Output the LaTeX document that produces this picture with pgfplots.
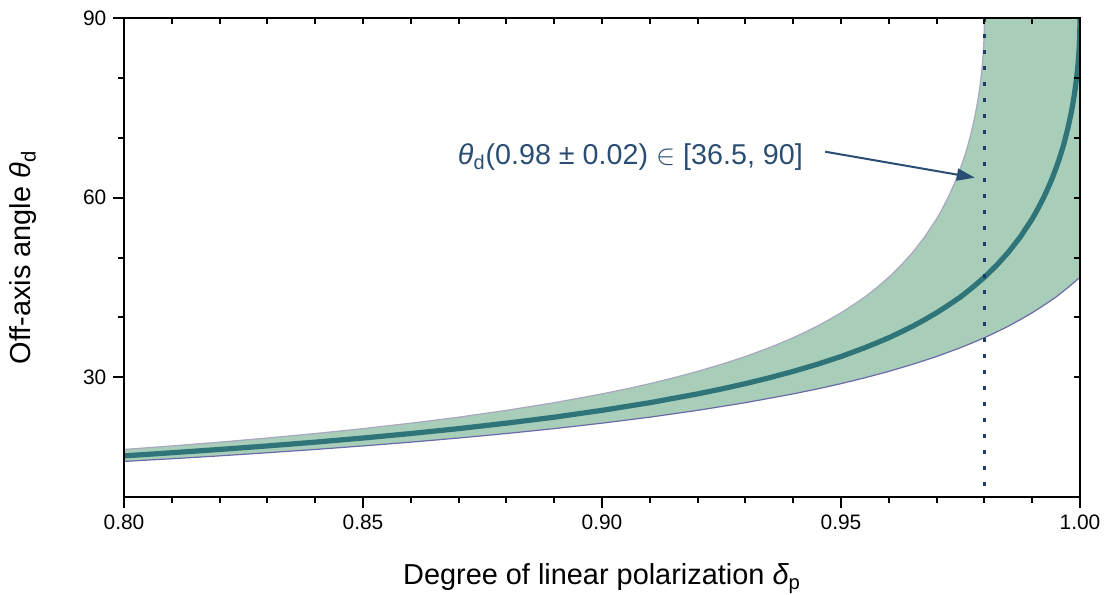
\documentclass[border=0pt]{standalone}
\usepackage{fontspec}
\setmainfont{Liberation Sans}
\usepackage{pgfplots}
\usepackage{pgfplotstable}
\pgfplotsset{compat=1.18}
\usepgfplotslibrary{fillbetween}
\usetikzlibrary{arrows.meta}

\definecolor{fillc}{HTML}{A8CDB8}
\definecolor{upperc}{HTML}{A8A8C0}
\definecolor{lowerc}{HTML}{6A6AA8}
\definecolor{centerc}{HTML}{2E7479}
\definecolor{dotc}{HTML}{1F3D66}
\definecolor{annotc}{HTML}{2A4D73}

\pgfplotstableread{
x y
0.80 16.87
0.81 17.39
0.82 17.94
0.83 18.53
0.84 19.16
0.85 19.85
0.86 20.60
0.87 21.42
0.88 22.33
0.89 23.33
0.90 24.47
0.91 25.75
0.92 27.22
0.925 28.04
0.93 28.93
0.935 29.91
0.94 30.98
0.945 32.16
0.95 33.46
0.955 34.94
0.9575 35.75
0.96 36.60
0.9625 37.54
0.965 38.52
0.9675 39.61
0.97 40.77
0.9725 42.05
0.975 43.41
0.9775 44.99
0.98 46.70
0.9825 48.65
0.985 50.86
0.9875 53.43
0.99 56.45
0.9912 58.15
0.9925 60.18
0.9937 62.30
0.9945 63.88
0.995 64.95
0.9955 66.09
0.996 67.32
0.9965 68.61
0.997 70.12
0.9975 71.74
0.998 73.55
0.9982 74.36
0.9985 75.66
0.9988 77.13
0.999 78.22
0.9991 78.81
0.9993 80.10
0.9995 81.61
0.9996 82.49
0.9997 83.48
0.9998 84.67
0.9999 86.23
0.99995 87.33
1.00 90.00
}\centerdata

\pgfplotstableread{
x y
0.80 17.94
0.81 18.53
0.82 19.16
0.83 19.85
0.84 20.60
0.85 21.42
0.86 22.33
0.87 23.33
0.88 24.47
0.89 25.75
0.90 27.22
0.905 28.04
0.91 28.93
0.915 29.91
0.92 30.98
0.925 32.16
0.93 33.46
0.935 34.94
0.9375 35.75
0.94 36.60
0.9425 37.54
0.945 38.52
0.9475 39.61
0.95 40.77
0.9525 42.05
0.955 43.41
0.9575 44.99
0.96 46.70
0.9625 48.65
0.965 50.86
0.9675 53.43
0.97 56.45
0.9712 58.15
0.9725 60.18
0.9737 62.30
0.9745 63.88
0.975 64.95
0.9755 66.09
0.976 67.32
0.9765 68.61
0.977 70.12
0.9775 71.74
0.978 73.55
0.9782 74.36
0.9785 75.66
0.9788 77.13
0.979 78.22
0.9791 78.81
0.9793 80.10
0.9795 81.61
0.9796 82.49
0.9797 83.48
0.9798 84.67
0.9799 86.23
0.97995 87.33
0.98 90.00
1.00 90.00
}\upperdata

\pgfplotstableread{
x y
0.80 15.94
0.81 16.39
0.82 16.87
0.83 17.39
0.84 17.94
0.85 18.53
0.86 19.16
0.87 19.85
0.88 20.60
0.89 21.42
0.90 22.33
0.91 23.33
0.92 24.47
0.93 25.75
0.94 27.22
0.945 28.04
0.95 28.93
0.955 29.91
0.96 30.98
0.965 32.16
0.97 33.46
0.975 34.94
0.9775 35.75
0.98 36.60
0.9825 37.54
0.985 38.52
0.9875 39.61
0.99 40.77
0.9925 42.05
0.995 43.41
0.9975 44.99
1.00 46.70
}\lowerdata

\begin{document}
\begin{tikzpicture}
\begin{axis}[
  name=main,
  width=478bp, height=239.5bp, scale only axis,
  xmin=0.8, xmax=1, ymin=10, ymax=90,
  xtick={0.8,0.85,0.9,0.95,1}, xticklabels={0.80,0.85,0.90,0.95,1.00},
  minor x tick num=4,
  ytick={30,60,90}, yticklabels={30,60,90},
  minor y tick num=2,
  xtick pos=left, ytick pos=left, tick align=outside,
  major tick length=5.3bp, minor tick length=2.8bp,
  every tick/.style={black, line width=1bp},
  axis line style={line width=1bp},
  ticklabel style={font=\fontsize{10.5}{12}\selectfont},
  label style={font=\fontsize{14.5}{17}\selectfont},
  xlabel={Degree of linear polarization {\itshape δ}\textsubscript{p}},
  ylabel={Off-axis angle {\itshape θ}\textsubscript{d}},
  xlabel style={at={(axis description cs:0.5,-0.1837)}, anchor=base, inner sep=0pt},
  ylabel style={at={(axis description cs:-0.0975,0.5)}, anchor=base, inner sep=0pt},
]
\addplot[name path=U, draw=upperc, line width=0.6bp] table[x=x,y=y] {\upperdata};
\addplot[name path=L, draw=lowerc, line width=0.6bp] table[x=x,y=y] {\lowerdata};
\addplot[fill=fillc, draw=none] fill between[of=U and L];
\addplot[draw=centerc, line width=2.6bp, line join=round] table[x=x,y=y] {\centerdata};
\addplot[draw=dotc, line width=1.1bp, dash pattern=on 2bp off 6bp] coordinates {(0.98,90) (0.98,10)};
\draw[annotc, line width=1bp, -{Triangle[length=9bp,width=6bp]}] (axis cs:0.9467,67.67) -- (axis cs:0.9780,63.33);
\node[anchor=base east, text=annotc, font=\fontsize{14.4}{16}\selectfont, inner sep=0pt] at (axis cs:0.9421,65.5)
  {{\itshape θ}\textsubscript{d}(0.98 ± 0.02) $\in$ [36.5, 90]};
\end{axis}
\begin{axis}[
  width=478bp, height=239.5bp, scale only axis,
  xmin=0.8, xmax=1, ymin=10, ymax=90,
  xtick={0.8,0.85,0.9,0.95,1}, minor x tick num=4,
  ytick={30,60,90}, minor y tick num=2,
  xtick pos=right, ytick pos=right, tick align=inside,
  xticklabels={}, yticklabels={},
  major tick length=2.8bp, minor tick length=2.8bp,
  every tick/.style={black, line width=1bp},
  axis line style={line width=1bp},
]
\end{axis}
\pgfresetboundingbox
\path (main.south west) ++(-62bp,-49bp) rectangle ++(557.5bp,297.5bp);
\end{tikzpicture}
\end{document}
